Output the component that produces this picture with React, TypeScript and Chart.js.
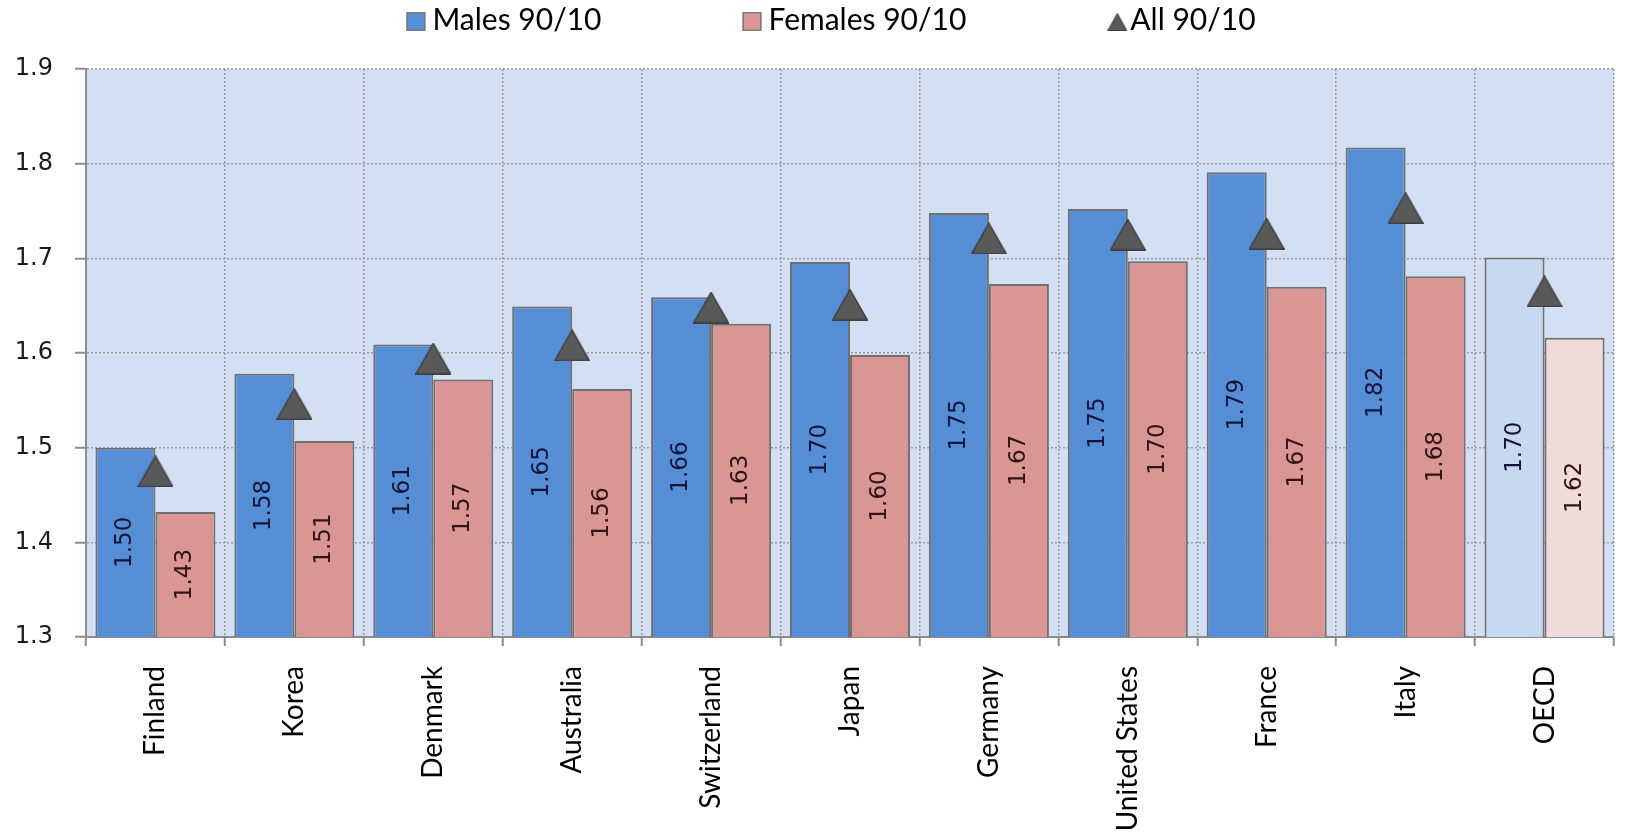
import React, { useEffect, useRef } from 'react';
import { Chart, registerables } from 'chart.js';

Chart.register(...registerables);

// ---------- data ----------
const categories = [
  'Finland', 'Korea', 'Denmark', 'Australia', 'Switzerland', 'Japan',
  'Germany', 'United States', 'France', 'Italy', 'OECD',
];
const malesValues = [1.500, 1.578, 1.609, 1.649, 1.659, 1.696, 1.748, 1.752, 1.791, 1.817, 1.701];
const femalesValues = [1.432, 1.507, 1.572, 1.562, 1.631, 1.598, 1.673, 1.697, 1.670, 1.681, 1.616];
const allValues = [1.475, 1.546, 1.594, 1.608, 1.648, 1.651, 1.721, 1.725, 1.726, 1.753, 1.665];
const yTickValues = [1.3, 1.4, 1.5, 1.6, 1.7, 1.8, 1.9];
const seriesLabels = ['Males 90/10', 'Females 90/10', 'All 90/10'];

// ---------- styles ----------
const MALE = '#558ED5';
const FEMALE = '#D99694';
const MALE_OECD = '#C6D9F1';
const FEMALE_OECD = '#F2DCDB';
const PLOT_BG = '#D3E0F3';
const GRID = '#9a9a9a';
const AXIS = '#8c8c8c';
const BAR_BORDER = '#707070';

function makeTriangle(w: number, h: number, lw: number) {
  const c = document.createElement('canvas');
  c.width = w;
  c.height = h;
  const ctx = c.getContext('2d') as CanvasRenderingContext2D;
  ctx.beginPath();
  ctx.moveTo(w / 2, lw / 2);
  ctx.lineTo(w - lw / 2, h - lw / 2);
  ctx.lineTo(lw / 2, h - lw / 2);
  ctx.closePath();
  ctx.fillStyle = '#595959';
  ctx.fill();
  ctx.lineWidth = lw;
  ctx.strokeStyle = '#3f3f3f';
  ctx.stroke();
  return c;
}

const bgPlugin = {
  id: 'plotBg',
  beforeDraw(chart: any) {
    const { ctx, chartArea } = chart;
    ctx.save();
    ctx.fillStyle = PLOT_BG;
    ctx.fillRect(chartArea.left, chartArea.top, chartArea.right - chartArea.left, chartArea.bottom - chartArea.top);
    ctx.restore();
  },
};

function drawBarLabels(chart: any) {
  const ctx = chart.ctx as CanvasRenderingContext2D;
  const colors = ['#14143a', '#2e1414'];
  const yScale = chart.scales.y;
  const basePx = yScale.getPixelForValue(yScale.min);
  for (let di = 0; di < 2; di++) {
    const meta = chart.getDatasetMeta(di);
    const values = chart.data.datasets[di].data as number[];
    for (let i = 0; i < meta.data.length; i++) {
      const el: any = meta.data[i];
      const x = Number(el.x);
      const top = yScale.getPixelForValue(values[i]);
      ctx.save();
      ctx.translate(x, (top + basePx) / 2);
      ctx.rotate(-Math.PI / 2);
      ctx.font = '23px "DejaVu Sans", sans-serif';
      ctx.fillStyle = colors[di];
      ctx.textAlign = 'center';
      ctx.textBaseline = 'middle';
      ctx.fillText(values[i].toFixed(2), 0, 0);
      ctx.restore();
    }
  }
}

let legendTriangle: HTMLCanvasElement | null = null;

function drawLegend(chart: any) {
  const ctx = chart.ctx as CanvasRenderingContext2D;
  ctx.save();
  ctx.font = '30px Lato, sans-serif';
  ctx.textBaseline = 'alphabetic';
  ctx.textAlign = 'left';
  const ds = chart.data.datasets;
  const markW = [19, 19, 20];
  const markGap = [7, 7, 3];
  const itemGap = 141;
  const widths = ds.map((d: any, i: number) => markW[i] + markGap[i] + ctx.measureText(d.label).width);
  const total = widths.reduce((a: number, b: number) => a + b, 0) + itemGap * (ds.length - 1);
  let x = 831 - total / 2;
  const boxTop = 12;
  const baseline = 30;
  ds.forEach((d: any, i: number) => {
    if (i < 2) {
      ctx.fillStyle = i === 0 ? MALE : FEMALE;
      ctx.fillRect(x, boxTop, 19, 19);
      ctx.lineWidth = 1.5;
      ctx.strokeStyle = '#7a7a7a';
      ctx.strokeRect(x + 0.75, boxTop + 0.75, 17.5, 17.5);
    } else if (legendTriangle) {
      ctx.drawImage(legendTriangle, x, 13);
    }
    ctx.fillStyle = '#000';
    ctx.fillText(d.label, x + markW[i] + markGap[i], baseline);
    x += widths[i] + itemGap;
  });
  ctx.restore();
}

const overlayPlugin = {
  id: 'overlay',
  afterDraw(chart: any) {
    try {
      drawBarLabels(chart);
    } catch (e: any) {
      chart.ctx.fillStyle = 'red';
      chart.ctx.font = '16px sans-serif';
      chart.ctx.fillText('label error: ' + String(e && e.message), 100, 100);
    }
    drawLegend(chart);
  },
};

export default function App() {
  const canvasRef = useRef<HTMLCanvasElement | null>(null);

  useEffect(() => {
    document.body.style.margin = '0';
    document.body.style.overflow = 'hidden';
    let chart: Chart | null = null;
    let cancelled = false;

    const build = () => {
      if (cancelled || !canvasRef.current) return;
      const triangle = makeTriangle(36, 32, 1.5);
      legendTriangle = makeTriangle(20, 18, 1);

      const gridCommon = {
        color: GRID,
        lineWidth: 1.5,
        tickColor: AXIS,
        tickWidth: 2,
        tickBorderDash: [],
      };

      chart = new Chart(canvasRef.current, {
        type: 'bar',
        data: {
          labels: categories,
          datasets: [
            {
              type: 'bar',
              label: seriesLabels[0],
              data: malesValues,
              backgroundColor: categories.map((c) => (c === 'OECD' ? MALE_OECD : MALE)),
              borderColor: BAR_BORDER,
              borderWidth: 2,
              borderSkipped: false,
              categoryPercentage: 0.864,
              barPercentage: 1.0,
              order: 1,
            },
            {
              type: 'bar',
              label: seriesLabels[1],
              data: femalesValues,
              backgroundColor: categories.map((c) => (c === 'OECD' ? FEMALE_OECD : FEMALE)),
              borderColor: BAR_BORDER,
              borderWidth: 2,
              borderSkipped: false,
              categoryPercentage: 0.864,
              barPercentage: 1.0,
              order: 1,
            },
            {
              type: 'line',
              label: seriesLabels[2],
              data: allValues,
              showLine: false,
              pointStyle: triangle as any,
              pointRadius: 18,
              order: 0,
            } as any,
          ],
        },
        options: {
          responsive: false,
          animation: false,
          devicePixelRatio: 1,
          events: [],
          layout: { padding: { top: 69, right: 5, left: 0, bottom: 0 } },
          plugins: {
            legend: { display: false },
            tooltip: { enabled: false },
          },
          scales: {
            x: {
              offset: true,
              afterFit: (s: any) => { s.height = 196; },
              ticks: {
                font: { family: 'Lato', size: 28 },
                color: '#000',
                maxRotation: 90,
                minRotation: 90,
                autoSkip: false,
                padding: 20,
              },
              grid: { ...gridCommon, offset: true, tickLength: 9 },
              border: { display: true, color: AXIS, width: 2, dash: [2, 2] },
            },
            y: {
              min: 1.3,
              max: 1.9,
              afterFit: (s: any) => { s.width = 86; },
              afterBuildTicks: (s: any) => { s.ticks = yTickValues.map((v) => ({ value: v })); },
              ticks: {
                font: { family: 'DejaVu Sans', size: 24 },
                color: '#1a1a1a',
                padding: 22,
                callback: (v: any) => Number(v).toFixed(1),
              },
              grid: { ...gridCommon, tickLength: 11 },
              border: { display: true, color: AXIS, width: 2, dash: [2, 2] },
            },
          },
        },
        plugins: [bgPlugin, overlayPlugin],
      } as any);
    };

    const fontsReady = (document as any).fonts
      ? Promise.all([
          (document as any).fonts.load('30px Lato'),
          (document as any).fonts.load('24px "DejaVu Sans"'),
        ]).catch(() => null)
      : Promise.resolve(null);
    fontsReady.then(build);

    return () => {
      cancelled = true;
      if (chart) chart.destroy();
    };
  }, []);

  return (
    <div style={{ width: 1633, height: 833 }}>
      <canvas ref={canvasRef} width={1633} height={833} style={{ display: 'block' }} />
    </div>
  );
}
